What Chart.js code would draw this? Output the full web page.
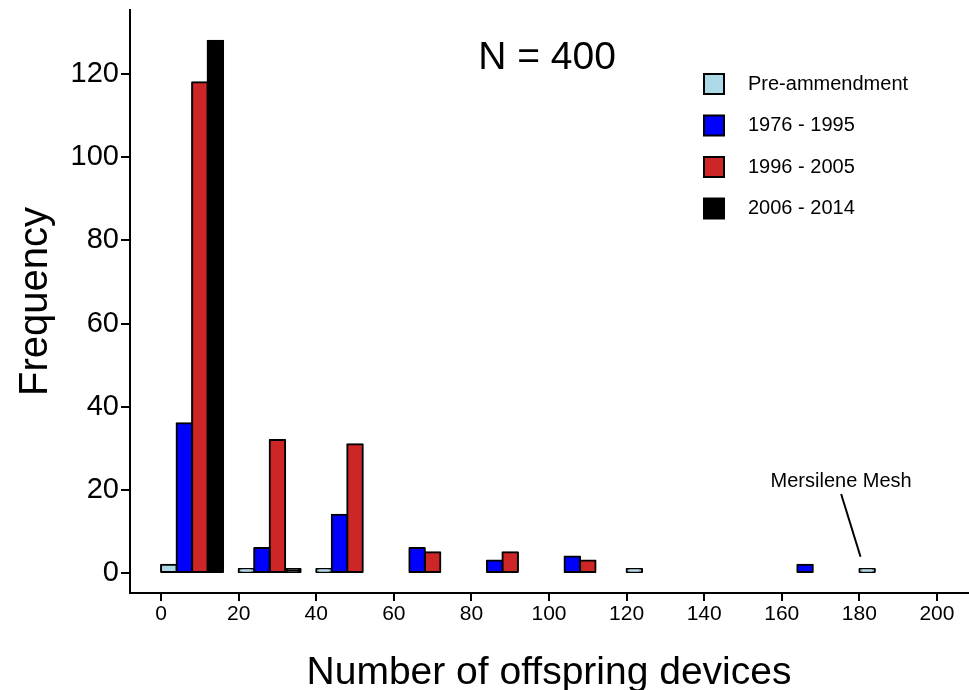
<!DOCTYPE html>
<html>
<head>
<meta charset="utf-8">
<script src="https://cdn.jsdelivr.net/npm/chart.js@4"></script>
<style>
  html, body { margin: 0; padding: 0; background: #fff; }
  #wrap { width: 969px; height: 690px; position: relative; }
</style>
</head>
<body>
<div id="wrap"><canvas id="c" width="969" height="690"></canvas></div>
<script>
// ---- data ----
const binStarts = [0, 20, 40, 60, 80, 100, 120, 140, 160, 180];
const seriesNames = ["Pre-ammendment", "1976 - 1995", "1996 - 2005", "2006 - 2014"];
const preAmendment = [2, 1, 1, 0, 0, 0, 1, 0, 0, 1];
const period1976 = [36, 6, 14, 6, 3, 4, 0, 0, 2, 0];
const period1996 = [118, 32, 31, 5, 5, 3, 0, 0, 0, 0];
const period2006 = [128, 1, 0, 0, 0, 0, 0, 0, 0, 0];
const xTicks = [0, 20, 40, 60, 80, 100, 120, 140, 160, 180, 200];
const yTicks = [0, 20, 40, 60, 80, 100, 120];
const totalN = 400;

const colors = ["#ADD8E6", "#0000FF", "#CD2626", "#000000"];
const allSeries = [preAmendment, period1976, period1996, period2006];
const subWidth = 4; // each period occupies a 4-unit slice of its 20-unit bin
const FONT = "'Liberation Sans', Arial, Helvetica, sans-serif";

const datasets = allSeries.map((vals, si) => ({
  label: seriesNames[si],
  data: vals.map((v, i) => ({ x: binStarts[i] + si * subWidth + subWidth / 2, y: v === 0 ? null : v })),
  backgroundColor: colors[si],
  borderColor: "#000",
  borderWidth: 2,
  borderSkipped: false,
  borderRadius: 1,
  inflateAmount: 1,
  grouped: false,
  barPercentage: 1,
  categoryPercentage: 1
}));

const overlay = {
  id: "overlay",
  afterDraw(chart) {
    const ctx = chart.ctx;
    const xs = chart.scales.x, ys = chart.scales.y;
    const area = chart.chartArea;
    ctx.save();
    ctx.fillStyle = "#000";
    ctx.strokeStyle = "#000";
    // x title
    ctx.font = "39px " + FONT;
    ctx.textAlign = "center";
    ctx.textBaseline = "alphabetic";
    ctx.fillText("Number of offspring devices", (area.left + area.right) / 2, 684);
    // y title
    ctx.save();
    ctx.translate(47, (area.top + area.bottom) / 2);
    ctx.rotate(-Math.PI / 2);
    ctx.font = "40px " + FONT;
    ctx.fillText("Frequency", 0, 0);
    ctx.restore();
    // N label
    ctx.font = "39px " + FONT;
    ctx.fillText("N = " + totalN, xs.getPixelForValue(99.5), 69);
    // legend
    ctx.font = "20px " + FONT;
    ctx.textAlign = "left";
    ctx.textBaseline = "middle";
    seriesNames.forEach((name, i) => {
      const cy = 84 + i * 41.5;
      ctx.fillStyle = colors[i];
      ctx.lineWidth = 2;
      ctx.beginPath();
      ctx.rect(704, cy - 10, 20, 20);
      ctx.fill();
      ctx.stroke();
      ctx.fillStyle = "#000";
      ctx.fillText(name, 748, cy);
    });
    // annotation
    ctx.textAlign = "center";
    ctx.textBaseline = "alphabetic";
    ctx.font = "20px " + FONT;
    ctx.fillText("Mersilene Mesh", xs.getPixelForValue(175.3), 487);
    ctx.lineWidth = 2;
    ctx.beginPath();
    ctx.moveTo(xs.getPixelForValue(175.3), ys.getPixelForValue(19));
    ctx.lineTo(xs.getPixelForValue(180.3), ys.getPixelForValue(3.9));
    ctx.stroke();
    ctx.restore();
  }
};

new Chart(document.getElementById("c"), {
  type: "bar",
  data: { datasets },
  options: {
    responsive: false,
    animation: false,
    devicePixelRatio: 1,
    layout: { padding: { top: 10, right: 1, left: 0, bottom: 0 } },
    plugins: { legend: { display: false }, tooltip: { enabled: false } },
    scales: {
      x: {
        type: "linear",
        offset: false,
        min: -8,
        max: 208,
        afterFit(s) { s.height = 97; s.paddingLeft = 0; s.paddingRight = 0; },
        afterBuildTicks(s) { s.ticks = xTicks.map(v => ({ value: v })); },
        ticks: { stepSize: 20, includeBounds: false, color: "#000", font: { size: 21, family: FONT }, padding: 1, maxRotation: 0, autoSkip: false },
        grid: { offset: false, drawOnChartArea: false, drawTicks: true, tickLength: 8, color: "#000", lineWidth: 2 },
        border: { display: true, color: "#000", width: 2 }
      },
      y: {
        type: "linear",
        min: -4.8,
        max: 135.4,
        afterFit(s) { s.width = 130; s.paddingTop = 0; s.paddingBottom = 0; },
        afterBuildTicks(s) { s.ticks = yTicks.map(v => ({ value: v })); },
        ticks: { stepSize: 20, includeBounds: false, color: "#000", font: { size: 29, family: FONT }, padding: 2, autoSkip: false },
        grid: { drawOnChartArea: false, drawTicks: true, tickLength: 9, color: "#000", lineWidth: 2 },
        border: { display: true, color: "#000", width: 2 }
      }
    }
  },
  plugins: [overlay]
});
</script>
</body>
</html>
